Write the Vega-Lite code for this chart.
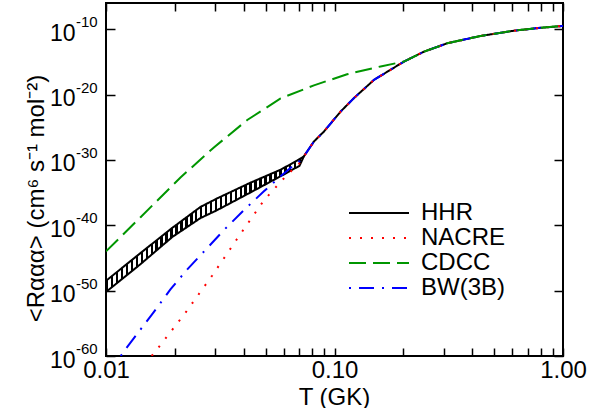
{
  "$schema": "https://vega.github.io/schema/vega-lite/v6.json",
  "width": 457,
  "height": 353,
  "autosize": {"type": "none"},
  "padding": {"left": 106, "top": 3, "right": 32, "bottom": 52},
  "background": "white",
  "config": {
    "font": "Liberation Sans",
    "view": {"stroke": "black", "strokeWidth": 2},
    "axis": {
      "domain": false,
      "grid": false,
      "tickColor": "black",
      "tickWidth": 1.5,
      "labelColor": "black",
      "titleColor": "black",
      "labelFont": "Liberation Sans",
      "titleFont": "Liberation Sans",
      "labelFontSize": 24,
      "titleFontSize": 24,
      "titleFontWeight": "normal",
      "labelOverlap": false,
      "labelFlush": false,
      "labelBound": false
    },
    "legend": {
      "orient": "none",
      "legendX": 260,
      "legendY": 197,
      "padding": 0,
      "rowPadding": -1,
      "symbolType": "M-2.5,0H2.5",
      "symbolSize": 576,
      "symbolStrokeWidth": 2,
      "labelFont": "Liberation Sans",
      "labelFontSize": 24,
      "labelColor": "black",
      "labelOffset": 29
    }
  },
  "datasets": {
    "band": [
      {"T": 0.01, "hi": 3.162e-49, "lo": 6.310e-51},
      {"T": 0.0141, "hi": 5.012e-45, "lo": 1e-46},
      {"T": 0.0195, "hi": 3.981e-41, "lo": 1.585e-42},
      {"T": 0.0259, "hi": 6.310e-38, "lo": 1.259e-39},
      {"T": 0.0306, "hi": 1.259e-36, "lo": 1.995e-38},
      {"T": 0.0428, "hi": 3.162e-34, "lo": 1e-35},
      {"T": 0.0581, "hi": 3.162e-32, "lo": 3.162e-33},
      {"T": 0.0687, "hi": 7.943e-31, "lo": 7.943e-32},
      {"T": 0.0703, "hi": 1.318e-30, "lo": 1.259e-31},
      {"T": 0.0734, "hi": 3.388e-30, "lo": 3.388e-30}
    ],
    "exps": [
      {"R": 1e-60, "e": "-60"},
      {"R": 1e-50, "e": "-50"},
      {"R": 1e-40, "e": "-40"},
      {"R": 1e-30, "e": "-30"},
      {"R": 1e-20, "e": "-20"},
      {"R": 1e-10, "e": "-10"}
    ],
    "lines": [
      {"s": "HHR", "p": "u", "T": 0.01, "R": 3.162e-49},
      {"s": "HHR", "p": "u", "T": 0.0141, "R": 5.012e-45},
      {"s": "HHR", "p": "u", "T": 0.0195, "R": 3.981e-41},
      {"s": "HHR", "p": "u", "T": 0.0259, "R": 6.310e-38},
      {"s": "HHR", "p": "u", "T": 0.0306, "R": 1.259e-36},
      {"s": "HHR", "p": "u", "T": 0.0428, "R": 3.162e-34},
      {"s": "HHR", "p": "u", "T": 0.0581, "R": 3.162e-32},
      {"s": "HHR", "p": "u", "T": 0.0687, "R": 7.943e-31},
      {"s": "HHR", "p": "u", "T": 0.0734, "R": 3.388e-30},
      {"s": "HHR", "p": "u", "T": 0.0813, "R": 6.607e-28},
      {"s": "HHR", "p": "u", "T": 0.09, "R": 2.239e-26},
      {"s": "HHR", "p": "u", "T": 0.1064, "R": 2.512e-23},
      {"s": "HHR", "p": "u", "T": 0.1216, "R": 2.818e-21},
      {"s": "HHR", "p": "u", "T": 0.1489, "R": 1.738e-18},
      {"s": "HHR", "p": "u", "T": 0.2014, "R": 1.096e-15},
      {"s": "HHR", "p": "u", "T": 0.2466, "R": 3.631e-14},
      {"s": "HHR", "p": "u", "T": 0.3119, "R": 7.079e-13},
      {"s": "HHR", "p": "u", "T": 0.4365, "R": 9.120e-12},
      {"s": "HHR", "p": "u", "T": 0.6109, "R": 5.888e-11},
      {"s": "HHR", "p": "u", "T": 0.7943, "R": 1.585e-10},
      {"s": "HHR", "p": "u", "T": 1.0, "R": 3.090e-10},
      {"s": "HHR", "p": "l", "T": 0.01, "R": 6.310e-51},
      {"s": "HHR", "p": "l", "T": 0.0141, "R": 1e-46},
      {"s": "HHR", "p": "l", "T": 0.0195, "R": 1.585e-42},
      {"s": "HHR", "p": "l", "T": 0.0259, "R": 1.259e-39},
      {"s": "HHR", "p": "l", "T": 0.0306, "R": 1.995e-38},
      {"s": "HHR", "p": "l", "T": 0.0428, "R": 1e-35},
      {"s": "HHR", "p": "l", "T": 0.0581, "R": 3.162e-33},
      {"s": "HHR", "p": "l", "T": 0.0703, "R": 1.259e-31},
      {"s": "HHR", "p": "l", "T": 0.0734, "R": 3.388e-30},
      {"s": "BW(3B)", "p": "a", "T": 0.0116, "R": 1e-60},
      {"s": "BW(3B)", "p": "a", "T": 0.01216, "R": 1.047e-59},
      {"s": "BW(3B)", "p": "a", "T": 0.01618, "R": 5.248e-54},
      {"s": "BW(3B)", "p": "a", "T": 0.01914, "R": 1.514e-50},
      {"s": "BW(3B)", "p": "a", "T": 0.0228, "R": 2.188e-47},
      {"s": "BW(3B)", "p": "a", "T": 0.02754, "R": 2.512e-44},
      {"s": "BW(3B)", "p": "a", "T": 0.03296, "R": 2.188e-41},
      {"s": "BW(3B)", "p": "a", "T": 0.04036, "R": 2.512e-38},
      {"s": "BW(3B)", "p": "a", "T": 0.04909, "R": 1.549e-35},
      {"s": "BW(3B)", "p": "a", "T": 0.05808, "R": 3.020e-33},
      {"s": "BW(3B)", "p": "a", "T": 0.06637, "R": 1.585e-31},
      {"s": "BW(3B)", "p": "a", "T": 0.0703, "R": 6.310e-31},
      {"s": "BW(3B)", "p": "a", "T": 0.0734, "R": 3.388e-30},
      {"s": "BW(3B)", "p": "a", "T": 0.0813, "R": 6.607e-28},
      {"s": "BW(3B)", "p": "a", "T": 0.09, "R": 2.239e-26},
      {"s": "BW(3B)", "p": "a", "T": 0.1064, "R": 2.512e-23},
      {"s": "BW(3B)", "p": "a", "T": 0.1216, "R": 2.818e-21},
      {"s": "BW(3B)", "p": "a", "T": 0.1489, "R": 1.738e-18},
      {"s": "BW(3B)", "p": "a", "T": 0.2014, "R": 1.096e-15},
      {"s": "BW(3B)", "p": "a", "T": 0.2466, "R": 3.631e-14},
      {"s": "BW(3B)", "p": "a", "T": 0.3119, "R": 7.079e-13},
      {"s": "BW(3B)", "p": "a", "T": 0.4365, "R": 9.120e-12},
      {"s": "BW(3B)", "p": "a", "T": 0.6109, "R": 5.888e-11},
      {"s": "BW(3B)", "p": "a", "T": 0.7943, "R": 1.585e-10},
      {"s": "BW(3B)", "p": "a", "T": 1.0, "R": 3.090e-10},
      {"s": "NACRE", "p": "a", "T": 0.01585, "R": 1e-60},
      {"s": "NACRE", "p": "a", "T": 0.01683, "R": 1.349e-59},
      {"s": "NACRE", "p": "a", "T": 0.02228, "R": 4.266e-54},
      {"s": "NACRE", "p": "a", "T": 0.02917, "R": 2.089e-48},
      {"s": "NACRE", "p": "a", "T": 0.03882, "R": 5.012e-42},
      {"s": "NACRE", "p": "a", "T": 0.04909, "R": 6.310e-37},
      {"s": "NACRE", "p": "a", "T": 0.05902, "R": 7.943e-34},
      {"s": "NACRE", "p": "a", "T": 0.06637, "R": 5.012e-32},
      {"s": "NACRE", "p": "a", "T": 0.0703, "R": 3.162e-31},
      {"s": "NACRE", "p": "a", "T": 0.0734, "R": 3.388e-30},
      {"s": "NACRE", "p": "a", "T": 0.0813, "R": 6.607e-28},
      {"s": "NACRE", "p": "a", "T": 0.09, "R": 2.239e-26},
      {"s": "NACRE", "p": "a", "T": 0.1064, "R": 2.512e-23},
      {"s": "NACRE", "p": "a", "T": 0.1216, "R": 2.818e-21},
      {"s": "NACRE", "p": "a", "T": 0.1489, "R": 1.738e-18},
      {"s": "NACRE", "p": "a", "T": 0.2014, "R": 1.096e-15},
      {"s": "NACRE", "p": "a", "T": 0.2466, "R": 3.631e-14},
      {"s": "NACRE", "p": "a", "T": 0.3119, "R": 7.079e-13},
      {"s": "NACRE", "p": "a", "T": 0.4365, "R": 9.120e-12},
      {"s": "NACRE", "p": "a", "T": 0.6109, "R": 5.888e-11},
      {"s": "NACRE", "p": "a", "T": 0.7943, "R": 1.585e-10},
      {"s": "NACRE", "p": "a", "T": 1.0, "R": 3.090e-10},
      {"s": "CDCC", "p": "a", "T": 0.01, "R": 1e-44},
      {"s": "CDCC", "p": "a", "T": 0.01413, "R": 1.585e-39},
      {"s": "CDCC", "p": "a", "T": 0.02118, "R": 1.995e-33},
      {"s": "CDCC", "p": "a", "T": 0.02965, "R": 7.943e-29},
      {"s": "CDCC", "p": "a", "T": 0.0415, "R": 1.259e-24},
      {"s": "CDCC", "p": "a", "T": 0.05808, "R": 2.512e-21},
      {"s": "CDCC", "p": "a", "T": 0.08128, "R": 2.512e-19},
      {"s": "CDCC", "p": "a", "T": 0.1135, "R": 1.259e-17},
      {"s": "CDCC", "p": "a", "T": 0.1592, "R": 1.995e-16},
      {"s": "CDCC", "p": "a", "T": 0.2014, "R": 1.096e-15},
      {"s": "CDCC", "p": "a", "T": 0.2466, "R": 3.631e-14},
      {"s": "CDCC", "p": "a", "T": 0.3119, "R": 7.079e-13},
      {"s": "CDCC", "p": "a", "T": 0.4365, "R": 9.120e-12},
      {"s": "CDCC", "p": "a", "T": 0.6109, "R": 5.888e-11},
      {"s": "CDCC", "p": "a", "T": 0.7943, "R": 1.585e-10},
      {"s": "CDCC", "p": "a", "T": 1.0, "R": 3.090e-10}
    ]
  },
  "layer": [
    {
      "data": {"name": "band"},
      "mark": {
        "type": "area",
        "clip": true,
        "color": {
          "gradient": "linear", "x1": 0, "y1": 0, "x2": 1, "y2": 0,
          "stops": [
            {"offset": 0, "color": "#000"}, {"offset": 0.0125, "color": "#000"}, {"offset": 0.0125, "color": "#fff"}, {"offset": 0.025, "color": "#fff"},
            {"offset": 0.025, "color": "#000"}, {"offset": 0.0375, "color": "#000"}, {"offset": 0.0375, "color": "#fff"}, {"offset": 0.05, "color": "#fff"},
            {"offset": 0.05, "color": "#000"}, {"offset": 0.0625, "color": "#000"}, {"offset": 0.0625, "color": "#fff"}, {"offset": 0.075, "color": "#fff"},
            {"offset": 0.075, "color": "#000"}, {"offset": 0.0875, "color": "#000"}, {"offset": 0.0875, "color": "#fff"}, {"offset": 0.1, "color": "#fff"},
            {"offset": 0.1, "color": "#000"}, {"offset": 0.1125, "color": "#000"}, {"offset": 0.1125, "color": "#fff"}, {"offset": 0.125, "color": "#fff"},
            {"offset": 0.125, "color": "#000"}, {"offset": 0.1375, "color": "#000"}, {"offset": 0.1375, "color": "#fff"}, {"offset": 0.15, "color": "#fff"},
            {"offset": 0.15, "color": "#000"}, {"offset": 0.1625, "color": "#000"}, {"offset": 0.1625, "color": "#fff"}, {"offset": 0.175, "color": "#fff"},
            {"offset": 0.175, "color": "#000"}, {"offset": 0.1875, "color": "#000"}, {"offset": 0.1875, "color": "#fff"}, {"offset": 0.2, "color": "#fff"},
            {"offset": 0.2, "color": "#000"}, {"offset": 0.2125, "color": "#000"}, {"offset": 0.2125, "color": "#fff"}, {"offset": 0.225, "color": "#fff"},
            {"offset": 0.225, "color": "#000"}, {"offset": 0.2375, "color": "#000"}, {"offset": 0.2375, "color": "#fff"}, {"offset": 0.25, "color": "#fff"},
            {"offset": 0.25, "color": "#000"}, {"offset": 0.2625, "color": "#000"}, {"offset": 0.2625, "color": "#fff"}, {"offset": 0.275, "color": "#fff"},
            {"offset": 0.275, "color": "#000"}, {"offset": 0.2875, "color": "#000"}, {"offset": 0.2875, "color": "#fff"}, {"offset": 0.3, "color": "#fff"},
            {"offset": 0.3, "color": "#000"}, {"offset": 0.3125, "color": "#000"}, {"offset": 0.3125, "color": "#fff"}, {"offset": 0.325, "color": "#fff"},
            {"offset": 0.325, "color": "#000"}, {"offset": 0.3375, "color": "#000"}, {"offset": 0.3375, "color": "#fff"}, {"offset": 0.35, "color": "#fff"},
            {"offset": 0.35, "color": "#000"}, {"offset": 0.3625, "color": "#000"}, {"offset": 0.3625, "color": "#fff"}, {"offset": 0.375, "color": "#fff"},
            {"offset": 0.375, "color": "#000"}, {"offset": 0.3875, "color": "#000"}, {"offset": 0.3875, "color": "#fff"}, {"offset": 0.4, "color": "#fff"},
            {"offset": 0.4, "color": "#000"}, {"offset": 0.4125, "color": "#000"}, {"offset": 0.4125, "color": "#fff"}, {"offset": 0.425, "color": "#fff"},
            {"offset": 0.425, "color": "#000"}, {"offset": 0.4375, "color": "#000"}, {"offset": 0.4375, "color": "#fff"}, {"offset": 0.45, "color": "#fff"},
            {"offset": 0.45, "color": "#000"}, {"offset": 0.4625, "color": "#000"}, {"offset": 0.4625, "color": "#fff"}, {"offset": 0.475, "color": "#fff"},
            {"offset": 0.475, "color": "#000"}, {"offset": 0.4875, "color": "#000"}, {"offset": 0.4875, "color": "#fff"}, {"offset": 0.5, "color": "#fff"},
            {"offset": 0.5, "color": "#000"}, {"offset": 0.5125, "color": "#000"}, {"offset": 0.5125, "color": "#fff"}, {"offset": 0.525, "color": "#fff"},
            {"offset": 0.525, "color": "#000"}, {"offset": 0.5375, "color": "#000"}, {"offset": 0.5375, "color": "#fff"}, {"offset": 0.55, "color": "#fff"},
            {"offset": 0.55, "color": "#000"}, {"offset": 0.5625, "color": "#000"}, {"offset": 0.5625, "color": "#fff"}, {"offset": 0.575, "color": "#fff"},
            {"offset": 0.575, "color": "#000"}, {"offset": 0.5875, "color": "#000"}, {"offset": 0.5875, "color": "#fff"}, {"offset": 0.6, "color": "#fff"},
            {"offset": 0.6, "color": "#000"}, {"offset": 0.6125, "color": "#000"}, {"offset": 0.6125, "color": "#fff"}, {"offset": 0.625, "color": "#fff"},
            {"offset": 0.625, "color": "#000"}, {"offset": 0.6375, "color": "#000"}, {"offset": 0.6375, "color": "#fff"}, {"offset": 0.65, "color": "#fff"},
            {"offset": 0.65, "color": "#000"}, {"offset": 0.6625, "color": "#000"}, {"offset": 0.6625, "color": "#fff"}, {"offset": 0.675, "color": "#fff"},
            {"offset": 0.675, "color": "#000"}, {"offset": 0.6875, "color": "#000"}, {"offset": 0.6875, "color": "#fff"}, {"offset": 0.7, "color": "#fff"},
            {"offset": 0.7, "color": "#000"}, {"offset": 0.7125, "color": "#000"}, {"offset": 0.7125, "color": "#fff"}, {"offset": 0.725, "color": "#fff"},
            {"offset": 0.725, "color": "#000"}, {"offset": 0.7375, "color": "#000"}, {"offset": 0.7375, "color": "#fff"}, {"offset": 0.75, "color": "#fff"},
            {"offset": 0.75, "color": "#000"}, {"offset": 0.7625, "color": "#000"}, {"offset": 0.7625, "color": "#fff"}, {"offset": 0.775, "color": "#fff"},
            {"offset": 0.775, "color": "#000"}, {"offset": 0.7875, "color": "#000"}, {"offset": 0.7875, "color": "#fff"}, {"offset": 0.8, "color": "#fff"},
            {"offset": 0.8, "color": "#000"}, {"offset": 0.8125, "color": "#000"}, {"offset": 0.8125, "color": "#fff"}, {"offset": 0.825, "color": "#fff"},
            {"offset": 0.825, "color": "#000"}, {"offset": 0.8375, "color": "#000"}, {"offset": 0.8375, "color": "#fff"}, {"offset": 0.85, "color": "#fff"},
            {"offset": 0.85, "color": "#000"}, {"offset": 0.8625, "color": "#000"}, {"offset": 0.8625, "color": "#fff"}, {"offset": 0.875, "color": "#fff"},
            {"offset": 0.875, "color": "#000"}, {"offset": 0.8875, "color": "#000"}, {"offset": 0.8875, "color": "#fff"}, {"offset": 0.9, "color": "#fff"},
            {"offset": 0.9, "color": "#000"}, {"offset": 0.9125, "color": "#000"}, {"offset": 0.9125, "color": "#fff"}, {"offset": 0.925, "color": "#fff"},
            {"offset": 0.925, "color": "#000"}, {"offset": 0.9375, "color": "#000"}, {"offset": 0.9375, "color": "#fff"}, {"offset": 0.95, "color": "#fff"},
            {"offset": 0.95, "color": "#000"}, {"offset": 0.9625, "color": "#000"}, {"offset": 0.9625, "color": "#fff"}, {"offset": 0.975, "color": "#fff"},
            {"offset": 0.975, "color": "#000"}, {"offset": 0.9875, "color": "#000"}, {"offset": 0.9875, "color": "#fff"}, {"offset": 1, "color": "#fff"}
          ]
        }
      },
      "encoding": {
        "x": {"field": "T", "type": "quantitative", "scale": {"type": "log", "domain": [0.01, 1], "nice": false}, "axis": null},
        "y": {"field": "hi", "type": "quantitative", "scale": {"type": "log", "domain": [1e-60, 1e-6], "nice": false}, "axis": null},
        "y2": {"field": "lo"}
      }
    },
    {
      "data": {"name": "lines"},
      "mark": {"type": "line", "strokeWidth": 2, "clip": true},
      "encoding": {
        "x": {
          "field": "T", "type": "quantitative",
          "scale": {"type": "log", "domain": [0.01, 1], "nice": false},
          "axis": {
            "orient": "bottom",
            "values": [0.01, 0.02, 0.03, 0.04, 0.05, 0.06, 0.07, 0.08, 0.09, 0.1, 0.2, 0.3, 0.4, 0.5, 0.6, 0.7, 0.8, 0.9, 1],
            "labelExpr": "datum.value == 0.01 ? '0.01' : datum.value == 0.1 ? '0.10' : datum.value == 1 ? '1.00' : ''",
            "tickSize": -8,
            "labelPadding": 10,
            "title": "T (GK)",
            "titleX": 228,
            "titleY": 48,
            "titleBaseline": "alphabetic",
            "titleAlign": "center"
          }
        },
        "y": {
          "field": "R", "type": "quantitative",
          "scale": {"type": "log", "domain": [1e-60, 1e-6], "nice": false},
          "axis": {
            "orient": "left",
            "values": [1e-60, 1e-50, 1e-40, 1e-30, 1e-20, 1e-10],
            "labelExpr": "'10'",
            "labelFontSize": 23,
            "labelOffset": 4,
            "tickSize": -9,
            "labelPadding": 40,
            "title": "<Rααα> (cm⁶ s⁻¹ mol⁻²)",
            "titleAngle": -90,
            "titleX": -63,
            "titleY": 195,
            "titleBaseline": "alphabetic",
            "titleAlign": "center"
          }
        },
        "color": {
          "field": "s", "type": "nominal",
          "scale": {"domain": ["HHR", "NACRE", "CDCC", "BW(3B)"], "range": ["#000000", "#ff0000", "#009600", "#0000ff"]},
          "legend": {"title": null}
        },
        "strokeDash": {
          "field": "s", "type": "nominal",
          "scale": {"domain": ["HHR", "NACRE", "CDCC", "BW(3B)"], "range": [[1, 0], [2, 9], [17, 7], [2, 8, 15, 8]]},
          "legend": {"title": null}
        },
        "detail": {"field": "p", "type": "nominal"}
      }
    },
    {
      "data": {"name": "exps"},
      "mark": {"type": "text", "align": "left", "baseline": "middle", "dx": -30, "dy": -7, "fontSize": 15, "font": "Liberation Sans", "color": "black"},
      "encoding": {
        "x": {"datum": 0.01, "type": "quantitative", "scale": {"type": "log", "domain": [0.01, 1], "nice": false}, "axis": null},
        "y": {"field": "R", "type": "quantitative", "scale": {"type": "log", "domain": [1e-60, 1e-6], "nice": false}, "axis": null},
        "text": {"field": "e", "type": "nominal"}
      }
    },
    {
      "data": {"name": "band"},
      "mark": {"type": "point", "opacity": 0},
      "encoding": {
        "x": {
          "field": "T", "type": "quantitative",
          "scale": {"type": "log", "domain": [0.01, 1], "nice": false},
          "axis": {
            "orient": "top",
            "values": [0.01, 0.02, 0.03, 0.04, 0.05, 0.06, 0.07, 0.08, 0.09, 0.1, 0.2, 0.3, 0.4, 0.5, 0.6, 0.7, 0.8, 0.9, 1],
            "labels": false,
            "tickSize": -8,
            "title": null
          }
        },
        "y": {
          "field": "hi", "type": "quantitative",
          "scale": {"type": "log", "domain": [1e-60, 1e-6], "nice": false},
          "axis": {
            "orient": "right",
            "values": [1e-60, 1e-50, 1e-40, 1e-30, 1e-20, 1e-10],
            "labels": false,
            "tickSize": -9,
            "title": null
          }
        }
      }
    }
  ],
  "resolve": {"axis": {"x": "independent", "y": "independent"}}
}
